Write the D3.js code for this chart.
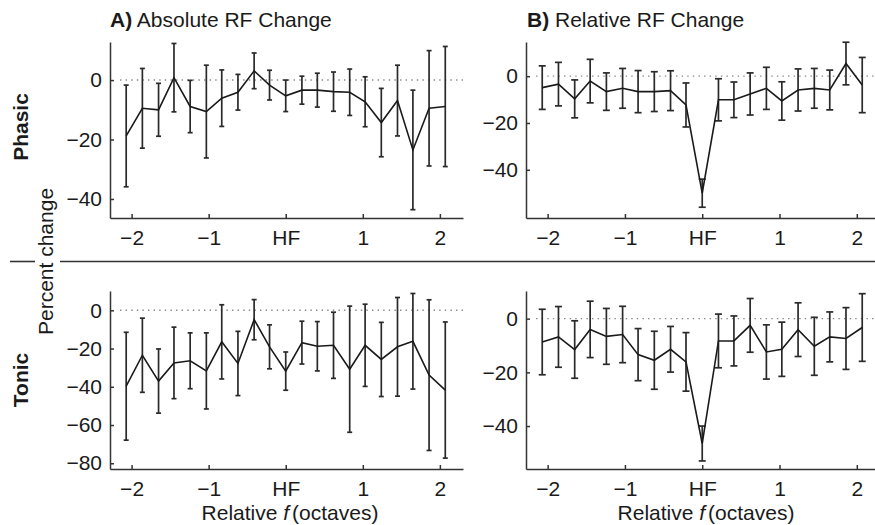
<!DOCTYPE html>
<html>
<head>
<meta charset="utf-8">
<script src="https://cdnjs.cloudflare.com/ajax/libs/d3/7.8.5/d3.min.js"></script>
<style>
  body { margin: 0; background: #fff; }
  svg { display: block; font-family: "Liberation Sans", Arial, sans-serif; }
  .axis path, .axis line { stroke: #333; stroke-width: 1.5; }
  .axis text { font-size: 21px; fill: #1a1a1a; }
</style>
</head>
<body>
<script>
(function() {

    var width = 875,
        height = 525;

    // frequency relative to the neuron's best frequency (octaves)
    var octaves = [-2.07, -1.86, -1.65, -1.45, -1.24, -1.03, -0.83, -0.62, -0.41, -0.21, 0,
                   0.21, 0.41, 0.62, 0.83, 1.03, 1.24, 1.45, 1.65, 1.86, 2.07];

    // A) absolute RF change, phasic
    var absPhasicMean = [-18.8, -9.5, -10, 0.8, -8.9, -10.6, -6.1, -4.1, 3.1, -1.7, -5.3,
                         -3.4, -3.4, -3.9, -4.1, -7.3, -14.3, -6.9, -23.5, -9.5, -8.9];
    var absPhasicErr = [17.1, 13.4, 8.9, 11.5, 8.8, 15.6, 9.5, 6, 6, 5, 5.3,
                        4.7, 5.7, 6.6, 7.8, 8.4, 11.5, 11.9, 20.1, 19.4, 20.2];

    // B) relative RF change, phasic
    var relPhasicMean = [-4.9, -3.4, -9.7, -2.1, -6.6, -5.2, -6.6, -6.6, -6.2, -12.3, -50,
                         -10.1, -10.1, -7.6, -5.2, -10.6, -5.9, -5.2, -5.9, 5.4, -3.8];
    var relPhasicErr = [9.3, 9.3, 8.1, 9.3, 8, 8.5, 9, 8.5, 8.5, 9.4, 6,
                        9, 7.6, 9, 9, 8.2, 9, 8.5, 8.5, 9.1, 11.8];

    // A) absolute RF change, tonic
    var absTonicMean = [-39.7, -23.5, -37, -27.5, -26.4, -31.7, -16.5, -27.8, -4.9, -19.1, -31.8,
                        -16.9, -18.8, -18.3, -30.8, -18.3, -25.7, -19.1, -16.2, -33.9, -41.7];
    var absTonicErr = [28.2, 19.4, 16.8, 18.7, 14.6, 19.9, 19.4, 16.8, 10.5, 11.5, 10,
                       11.2, 12.9, 17.3, 33, 21.5, 19.4, 25.8, 25, 39.4, 35.6];

    // B) relative RF change, tonic
    var relTonicMean = [-8.7, -6.8, -11.5, -4, -6.6, -5.9, -13.4, -15.5, -11.4, -16.1, -46.5,
                        -8.3, -8.3, -2.5, -12.4, -11.4, -4.1, -10.3, -6.8, -7.4, -3.3];
    var relTonicErr = [12.2, 11.3, 10.7, 10.5, 10.4, 10.5, 9.7, 10.8, 8.5, 10.9, 6.5,
                       10, 9.3, 10, 10.1, 10.1, 10, 10.8, 9.3, 11.5, 12.6];

    var xTicks = [-2, -1, 0, 1, 2];
    var yTicksTop = [0, -20, -40];
    var yTicksTonicAbs = [0, -20, -40, -60, -80];

    var panels = [
        { mean: absPhasicMean, err: absPhasicErr, ticks: yTicksTop,
          left: 110, right: 463, top: 42, bottom: 218, ydom: [-46.4, 12.8], cap: 5 },
        { mean: relPhasicMean, err: relPhasicErr, ticks: yTicksTop,
          left: 526, right: 880, top: 42, bottom: 218, ydom: [-60.6, 14.6], cap: 7 },
        { mean: absTonicMean, err: absTonicErr, ticks: yTicksTonicAbs,
          left: 110, right: 463, top: 291, bottom: 469, ydom: [-83, 10.1], cap: 5 },
        { mean: relTonicMean, err: relTonicErr, ticks: yTicksTop,
          left: 526, right: 880, top: 291, bottom: 469, ydom: [-56, 10.3], cap: 7 }
    ];

    var svg = d3.select("body")
        .append("svg")
        .attr("width", width)
        .attr("height", height);

    panels.forEach(function(p) {

        var x = d3.scaleLinear()
            .domain([-2.28, 2.3])
            .range([p.left, p.right]);

        var y = d3.scaleLinear()
            .domain(p.ydom)
            .range([p.bottom, p.top]);

        var g = svg.append("g");

        // dotted zero line
        g.append("line")
            .attr("x1", x(-2.15))
            .attr("x2", p.right)
            .attr("y1", y(0))
            .attr("y2", y(0))
            .attr("stroke", "#888")
            .attr("stroke-width", 1.4)
            .attr("stroke-dasharray", "1.4,4.2");

        // axes, inward ticks like matlab
        g.append("g")
            .attr("class", "axis")
            .attr("transform", "translate(0," + p.bottom + ")")
            .call(d3.axisBottom(x)
                .tickValues(xTicks)
                .tickFormat(function(d) { return d === 0 ? "HF" : d3.format("d")(d); })
                .tickSizeInner(-4)
                .tickSizeOuter(0)
                .tickPadding(8))
            .call(function(a) { a.selectAll("text").attr("dy", "0.92em"); });

        g.append("g")
            .attr("class", "axis")
            .attr("transform", "translate(" + p.left + ",0)")
            .call(d3.axisLeft(y)
                .tickValues(p.ticks)
                .tickSizeInner(-4)
                .tickSizeOuter(0)
                .tickPadding(8));

        g.selectAll(".axis .domain").attr("stroke-width", 1.8);

        var pts = p.mean.map(function(m, i) {
            return { x: octaves[i], m: m, e: p.err[i] };
        });

        // error bars
        var bars = g.selectAll(".ebar")
            .data(pts)
            .enter().append("g")
            .attr("class", "ebar")
            .attr("stroke", "#2a2a2a")
            .attr("stroke-width", 1.7);

        bars.append("line")
            .attr("x1", function(d) { return x(d.x); })
            .attr("x2", function(d) { return x(d.x); })
            .attr("y1", function(d) { return y(d.m - d.e); })
            .attr("y2", function(d) { return y(d.m + d.e); });

        bars.append("line")
            .attr("x1", function(d) { return x(d.x) - p.cap / 2; })
            .attr("x2", function(d) { return x(d.x) + p.cap / 2; })
            .attr("y1", function(d) { return y(d.m + d.e); })
            .attr("y2", function(d) { return y(d.m + d.e); });

        bars.append("line")
            .attr("x1", function(d) { return x(d.x) - p.cap / 2; })
            .attr("x2", function(d) { return x(d.x) + p.cap / 2; })
            .attr("y1", function(d) { return y(d.m - d.e); })
            .attr("y2", function(d) { return y(d.m - d.e); });

        // mean line
        g.append("path")
            .datum(pts)
            .attr("fill", "none")
            .attr("stroke", "#1a1a1a")
            .attr("stroke-width", 1.6)
            .attr("d", d3.line()
                .x(function(d) { return x(d.x); })
                .y(function(d) { return y(d.m); }));

        // x label only on bottom row
        if (p.top > 200) {
            var lab = g.append("text")
                .attr("x", p.left + 180)
                .attr("y", 520)
                .attr("text-anchor", "middle")
                .attr("font-size", 21)
                .attr("fill", "#1a1a1a");
            lab.append("tspan").text("Relative ");
            lab.append("tspan").attr("font-style", "italic").text("f");
            lab.append("tspan").text("(octaves)").attr("dx", 3);
        }
    });

    // titles
    var titles = [["A)", " Absolute RF Change", 110], ["B)", " Relative RF Change", 527]];
    titles.forEach(function(t) {
        var tx = svg.append("text")
            .attr("x", t[2])
            .attr("y", 27)
            .attr("font-size", 21)
            .attr("fill", "#1a1a1a");
        tx.append("tspan").attr("font-weight", "bold").text(t[0]);
        tx.append("tspan").text(t[1]);
    });

    // row labels
    var rows = [["Phasic", 127], ["Tonic", 380]];
    rows.forEach(function(r) {
        svg.append("text")
            .attr("transform", "translate(28," + r[1] + ") rotate(-90)")
            .attr("text-anchor", "middle")
            .attr("font-size", 21)
            .attr("font-weight", "bold")
            .attr("fill", "#1a1a1a")
            .text(r[0]);
    });

    svg.append("text")
        .attr("transform", "translate(53,261.5) rotate(-90)")
        .attr("text-anchor", "middle")
        .attr("font-size", 21)
        .attr("fill", "#1a1a1a")
        .text("Percent change");

    // separator between rows
    svg.append("line")
        .attr("x1", 10).attr("x2", 35)
        .attr("y1", 261.5).attr("y2", 261.5)
        .attr("stroke", "#333").attr("stroke-width", 1.6);
    svg.append("line")
        .attr("x1", 60).attr("x2", width)
        .attr("y1", 261.5).attr("y2", 261.5)
        .attr("stroke", "#333").attr("stroke-width", 1.6);

})();
</script>
</body>
</html>
